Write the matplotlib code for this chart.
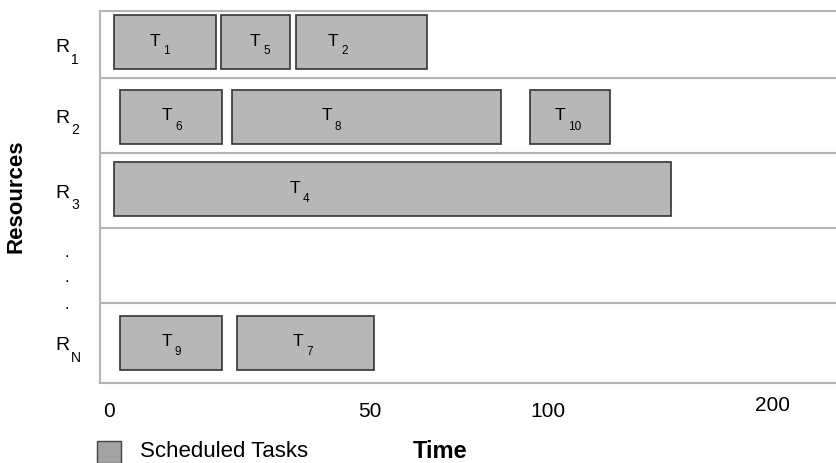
import matplotlib
matplotlib.use("Agg")
import matplotlib.pyplot as plt
import matplotlib.transforms as mtransforms

plt.rcParams['font.family'] = ['Liberation Sans', 'DejaVu Sans']

# schematic units (time axis is not drawn to scale in the original)
tasks = ['1', '5', '2', '6', '8', '10', '4', '9', '7']
task_row = [0, 0, 0, 1, 1, 1, 2, 4, 4]
task_start = [14, 121, 196, 20, 132, 430, 14, 20, 137]
task_end = [116, 190, 327, 122, 401, 510, 571, 122, 274]
label_x = [50, 150, 228, 62, 222, 455, 190, 62, 193]

resources = ['1', '2', '3', None, 'N']
row_edges = [0, 67, 142, 217, 292, 372]
bar_center = [30.5, 105.5, 178, None, 331.5]

tick_pos = [9, 270, 448, 673]
tick_labels = ['0', '50', '100', '200']

W, H = 837, 464
fig = plt.figure(figsize=(W / 100, H / 100), dpi=100)
ax = fig.add_axes([100 / W, (H - 384) / H, 737 / W, 372 / H])
ax.set_xlim(0, 737)
ax.set_ylim(372, 0)

grid_c = '#b4b4b4'
for e in row_edges[1:-1]:
    ax.axhline(e, color=grid_c, lw=1.5, zorder=1)
for s in ['top', 'bottom', 'left']:
    ax.spines[s].set_color(grid_c)
    ax.spines[s].set_linewidth(1.5)
ax.spines['right'].set_visible(False)
ax.set_yticks([])

bar_y = [bar_center[r] for r in task_row]
widths = [e - s for s, e in zip(task_start, task_end)]
ax.barh(bar_y, widths, left=task_start, height=54, color='#b7b7b7',
        edgecolor='#333333', linewidth=1.2, zorder=2)

for name, x, y in zip(tasks, label_x, bar_y):
    ax.text(x, y - 1.5, 'T', fontsize=12.5, ha='left', va='center', zorder=3)
    ax.text(x + 13, y + 9, name, fontsize=8.5, ha='left', va='center', zorder=3)

for r, name in enumerate(resources):
    if name is None:
        for dy in [31, 56, 83]:
            ax.text(-33, row_edges[3] + dy, '.', fontsize=12, ha='center',
                    va='bottom', clip_on=False)
        continue
    yc = (row_edges[r] + row_edges[r + 1]) / 2 + 2
    ax.text(-45, yc, 'R', fontsize=14, ha='left', va='center', clip_on=False)
    ax.text(-29, yc + 12, name, fontsize=10, ha='left', va='center', clip_on=False)

ax.set_xticks(tick_pos, tick_labels, fontsize=15)
ax.tick_params(axis='x', length=0, pad=13)
lab = ax.get_xticklabels()[-1]
lab.set_transform(lab.get_transform() + mtransforms.ScaledTranslation(0, 6 / 100, fig.dpi_scale_trans))

ax.set_ylabel('Resources', fontsize=16, fontweight='bold', labelpad=0)
ax.yaxis.set_label_coords(-73 / 737, 0.505)

# legend row
fig.patches.append(plt.Rectangle((97 / W, (H - 464) / H), 24 / W, 22 / H,
                                 transform=fig.transFigure, facecolor='#a3a3a3',
                                 edgecolor='#444444', linewidth=1))
fig.text(140 / W, (H - 452) / H, 'Scheduled Tasks', fontsize=16, va='center')
fig.text(413 / W, (H - 452) / H, 'Time', fontsize=17, fontweight='bold', va='center')

fig.savefig('out.png', dpi=100)
